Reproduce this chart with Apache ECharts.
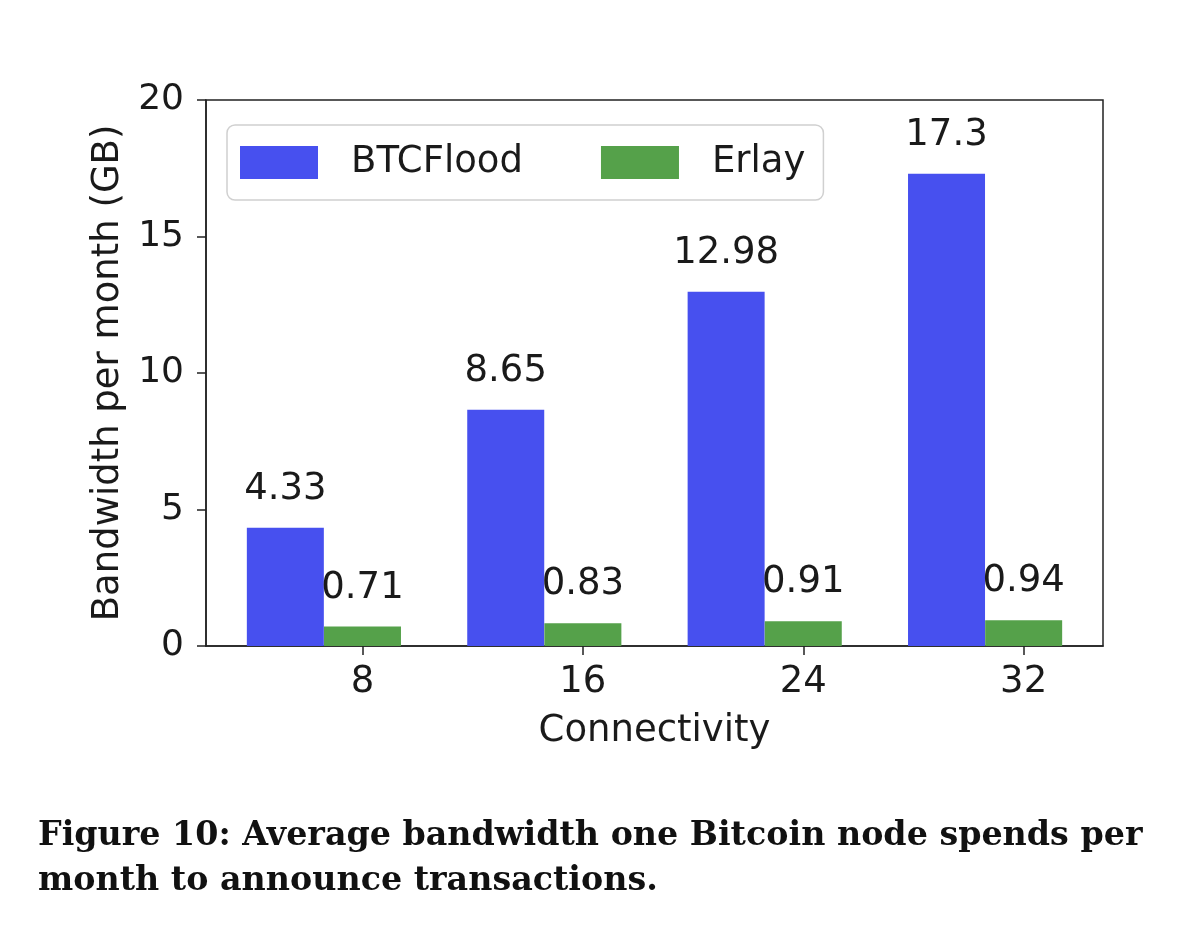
<!DOCTYPE html>
<html>
<head>
<meta charset="utf-8">
<script src="https://cdn.jsdelivr.net/npm/echarts@6/dist/echarts.min.js"></script>
<style>
  html, body { margin: 0; padding: 0; background: #fff; }
  #chart-container { width: 1200px; height: 936px; }
</style>
</head>
<body>
<div id="chart-container"></div>
<script>
var connectivity = ['8', '16', '24', '32'];
var btcflood = [4.33, 8.65, 12.98, 17.3];
var erlay = [0.71, 0.83, 0.91, 0.94];
var caption = 'Figure 10: Average bandwidth one Bitcoin node spends per\nmonth to announce transactions.';

var dom = document.getElementById('chart-container');
var myChart = echarts.init(dom, null, { renderer: 'canvas' });

// bar width in axis units (matplotlib style: ticks sit under the Erlay bar)
var W = 0.35;
var font = 'DejaVu Sans';

function pts(vals, shift) {
  return vals.map(function (v, i) { return [i + shift, v]; });
}

var labelStyle = {
  show: true,
  position: 'top',
  distance: 20,
  fontFamily: font,
  fontSize: 37,
  color: '#1a1a1a',
  formatter: function (p) { return String(p.value[1]); }
};

var option = {
  backgroundColor: '#fff',
  animation: false,
  title: {
    text: caption,
    left: 33,
    top: 809,
    textStyle: {
      fontFamily: 'DejaVu Serif',
      fontWeight: 'bold',
      fontSize: 33.3,
      lineHeight: 45,
      color: '#111'
    }
  },
  legend: {
    left: 227,
    top: 125,
    orient: 'horizontal',
    padding: [19, 18, 19, 13],
    icon: 'rect',
    itemWidth: 78,
    itemHeight: 33,
    itemGap: 78,
    backgroundColor: '#fff',
    borderColor: '#d0d0d0',
    borderWidth: 1.5,
    borderRadius: 8,
    textStyle: {
      fontFamily: font,
      fontSize: 37,
      color: '#1a1a1a',
      padding: [0, 0, 0, 28]
    },
    data: ['BTCFlood', 'Erlay']
  },
  grid: {
    left: 206,
    right: 97,
    top: 100,
    bottom: 290,
    show: true,
    borderColor: '#222',
    borderWidth: 1.5,
    containLabel: false
  },
  xAxis: {
    type: 'value',
    min: -0.71,
    max: 3.36,
    name: 'Connectivity',
    nameLocation: 'middle',
    nameGap: 67,
    nameTextStyle: { fontFamily: font, fontSize: 37, color: '#1a1a1a' },
    axisLine: { show: true, onZero: false, lineStyle: { color: '#222', width: 1.5 } },
    axisTick: {
      show: true,
      length: 9,
      customValues: [0, 1, 2, 3],
      lineStyle: { color: '#222', width: 1.5 }
    },
    axisLabel: {
      customValues: [0, 1, 2, 3],
      margin: 18,
      fontFamily: font,
      fontSize: 37,
      color: '#1a1a1a',
      formatter: function (v) { return connectivity[Math.round(v)]; }
    },
    splitLine: { show: false }
  },
  yAxis: {
    type: 'value',
    min: 0,
    max: 20,
    interval: 5,
    name: 'Bandwidth per month (GB)',
    nameLocation: 'middle',
    nameGap: 76,
    nameTextStyle: { fontFamily: font, fontSize: 37, color: '#1a1a1a' },
    axisLine: { show: true, onZero: false, lineStyle: { color: '#222', width: 1.5 } },
    axisTick: { show: true, length: 9, lineStyle: { color: '#222', width: 1.5 } },
    axisLabel: {
      margin: 22,
      fontFamily: font,
      fontSize: 36,
      color: '#1a1a1a'
    },
    splitLine: { show: false }
  },
  series: [
    {
      name: 'BTCFlood',
      type: 'bar',
      barWidth: 77,
      barGap: '-100%',
      itemStyle: { color: '#4750ef' },
      label: labelStyle,
      data: pts(btcflood, -W)
    },
    {
      name: 'Erlay',
      type: 'bar',
      barWidth: 77,
      barGap: '-100%',
      itemStyle: { color: '#55a14a' },
      label: labelStyle,
      data: pts(erlay, 0)
    }
  ]
};

myChart.setOption(option);
window.addEventListener('resize', myChart.resize);
</script>
</body>
</html>
